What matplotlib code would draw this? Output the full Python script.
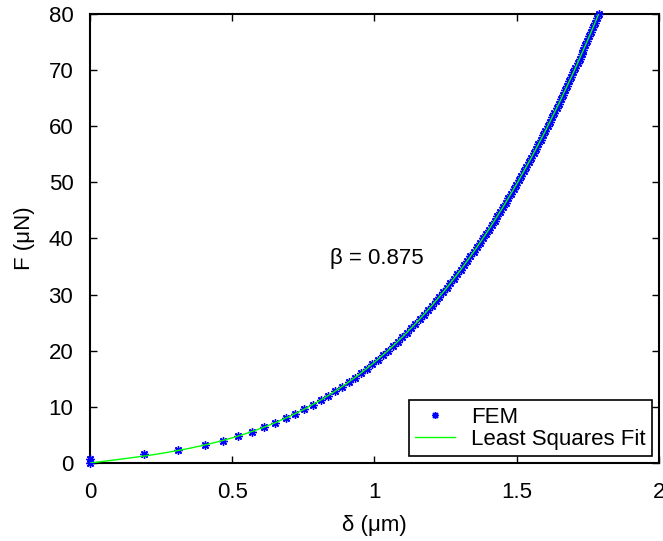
import matplotlib
matplotlib.use("Agg")
import matplotlib.pyplot as plt

# FEM data: displacement delta (um) and force F (uN)
fem_F = [round(0.8 * k, 1) for k in range(0, 101)]
fem_delta = [0.0, 0.0, 0.19, 0.31,
             0.403, 0.466, 0.521, 0.569, 0.613, 0.652, 0.688, 0.722, 0.753, 0.783, 0.811, 0.837,
             0.862, 0.886, 0.909, 0.931, 0.952, 0.972, 0.992, 1.011, 1.029, 1.047, 1.064, 1.081,
             1.097, 1.113, 1.129, 1.144, 1.159, 1.173, 1.187, 1.201, 1.215, 1.228, 1.241, 1.254,
             1.266, 1.279, 1.291, 1.303, 1.314, 1.326, 1.337, 1.348, 1.359, 1.370, 1.381, 1.391,
             1.402, 1.412, 1.422, 1.432, 1.442, 1.452, 1.461, 1.471, 1.480, 1.489, 1.498, 1.508,
             1.516, 1.525, 1.534, 1.543, 1.551, 1.560, 1.568, 1.576, 1.585, 1.593, 1.601, 1.609,
             1.617, 1.625, 1.632, 1.640, 1.648, 1.655, 1.663, 1.670, 1.678, 1.685, 1.692, 1.699,
             1.706, 1.714, 1.721, 1.728, 1.734, 1.741, 1.748, 1.755, 1.762, 1.768, 1.775, 1.781,
             1.788]

# Least squares fit curve
fit_delta = [0.0, 0.05, 0.1, 0.15, 0.2, 0.25, 0.3, 0.35, 0.4, 0.45, 0.5, 0.55, 0.6, 0.65,
             0.7, 0.75, 0.8, 0.85, 0.9, 0.95, 1.0, 1.05, 1.1, 1.15, 1.2, 1.25, 1.3, 1.35, 1.4,
             1.45, 1.5, 1.55, 1.6, 1.65, 1.7, 1.75, 1.788]
fit_F = [0.0, 0.31, 0.63, 0.96, 1.31, 1.7, 2.14, 2.62, 3.17, 3.79, 4.48, 5.27, 6.16, 7.15,
         8.27, 9.51, 10.89, 12.41, 14.09, 15.93, 17.95, 20.15, 22.54, 25.13, 27.94, 30.96,
         34.22, 37.72, 41.46, 45.46, 49.73, 54.28, 59.11, 64.24, 69.67, 75.42, 80.0]

x_ticks = [0, 0.5, 1, 1.5, 2]
x_ticklabels = ["0", "0.5", "1", "1.5", "2"]
y_ticks = [0, 10, 20, 30, 40, 50, 60, 70, 80]

plt.rcParams['font.family'] = ['Liberation Sans', 'DejaVu Sans']
fs = 16

fig = plt.figure(figsize=(6.63, 5.41), dpi=100)
ax = fig.add_axes([90 / 663, 1 - 463 / 541, (659 - 90) / 663, (463 - 14) / 541])

ax.plot(fem_delta, fem_F, linestyle='none', marker=(8, 2, 0), color=(0, 0, 1),
        markersize=6, markeredgewidth=1.0, label='FEM', clip_on=False, zorder=3)
ax.plot(fit_delta, fit_F, color=(0, 1, 0), linewidth=1.0, label='Least Squares Fit', zorder=4)

ax.set_xlim(0, 2)
ax.set_ylim(0, 80)
ax.set_xticks(x_ticks)
ax.set_xticklabels(x_ticklabels)
ax.set_yticks(y_ticks)
ax.tick_params(direction='in', length=5, width=1, top=True, right=True,
               labelsize=fs, colors='black')
ax.tick_params(axis='x', pad=14)
ax.tick_params(axis='y', pad=12)
for s in ax.spines.values():
    s.set_linewidth(1.5)

ax.set_xlabel('δ (μm)', fontsize=fs, labelpad=8)
ax.set_ylabel('F (μN)', fontsize=fs, labelpad=10)

ax.text(0.844, 36.5, 'β = 0.875', fontsize=fs, ha='left', va='center')

leg = ax.legend(loc='lower right', fontsize=fs, fancybox=False, edgecolor='black',
                framealpha=1, borderaxespad=0.3, handlelength=1.8, labelspacing=0.05,
                borderpad=0.3, handletextpad=0.7, numpoints=1, handleheight=0.7)
leg.get_frame().set_linewidth(1.2)
leg.legend_handles[0].set_markersize(5)

fig.savefig('out.png', dpi=100)
